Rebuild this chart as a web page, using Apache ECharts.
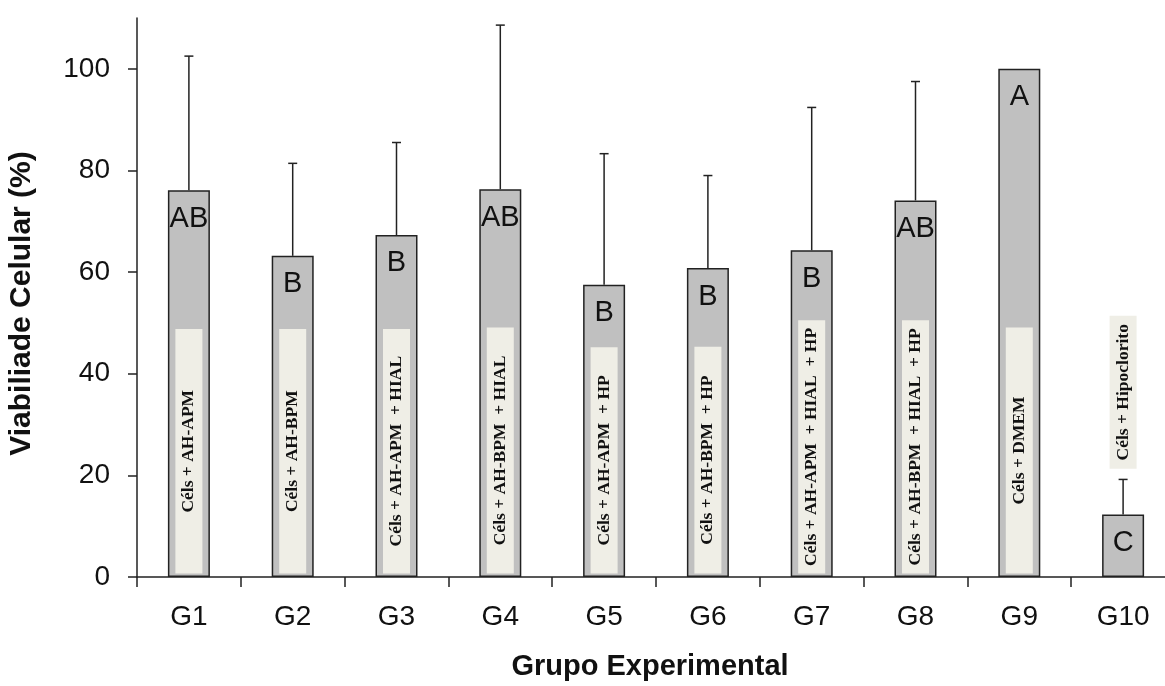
<!DOCTYPE html>
<html>
<head>
<meta charset="utf-8">
<script src="https://cdn.jsdelivr.net/npm/echarts@6/dist/echarts.min.js"></script>
<style>html,body{margin:0;padding:0;background:#fff;overflow:hidden}#c{width:1165px;height:686px}</style>
</head>
<body>
<div id="c"></div>
<script>
const categories = ['G1','G2','G3','G4','G5','G6','G7','G8','G9','G10'];
const means = [76.1, 63.2, 67.3, 76.3, 57.5, 60.8, 64.3, 74.1, 100, 12.3];
const errTops = [102.5, 81.4, 85.5, 108.6, 83.3, 79.0, 92.4, 97.5, null, 19.2];
const letters = ['AB','B','B','AB','B','B','B','AB','A','C'];
const boxLabels = [
  'Céls + AH-APM',
  'Céls + AH-BPM',
  'Céls + AH-APM  + HIAL',
  'Céls + AH-BPM  + HIAL',
  'Céls + AH-APM  + HP',
  'Céls + AH-BPM  + HP',
  'Céls + AH-APM  + HIAL  + HP',
  'Céls + AH-BPM  + HIAL  + HP',
  'Céls + DMEM',
  'Céls + Hipoclorito'
];
const boxBottoms = [0.7, 0.7, 0.7, 0.7, 0.7, 0.7, 0.7, 0.7, 0.7, 21.3];
const boxTops = [48.8, 48.8, 48.8, 49.1, 45.2, 45.3, 50.5, 50.5, 49.1, 51.4];
const yTicks = [0, 20, 40, 60, 80, 100];

const chart = echarts.init(document.getElementById('c'));
const axisColor = '#222';
chart.setOption({
  animation: false,
  backgroundColor: '#fff',
  grid: { left: 137, width: 1038, top: 18, bottom: 109, containLabel: false, outerBoundsMode: 'none' },
  xAxis: {
    type: 'category',
    data: categories,
    name: 'Grupo Experimental',
    nameLocation: 'middle',
    nameGap: 75,
    nameTextStyle: { fontFamily: 'Liberation Sans', fontWeight: 'bold', fontSize: 29, color: '#111', padding: [0, 12, 0, 0] },
    axisLine: { lineStyle: { color: axisColor, width: 1.5 } },
    axisTick: { show: true, length: 10, lineStyle: { color: axisColor, width: 1.5 } },
    axisLabel: { fontFamily: 'Liberation Sans', fontSize: 28, color: '#111', margin: 26 }
  },
  yAxis: {
    type: 'value',
    min: 0, max: 110, interval: 20,
    name: 'Viabiliade Celular (%)',
    nameLocation: 'middle',
    nameGap: 100,
    nameTextStyle: { fontFamily: 'Liberation Sans', fontWeight: 'bold', fontSize: 30, color: '#111', padding: [0, 12, 0, 0] },
    axisLine: { show: true, lineStyle: { color: axisColor, width: 1.5 } },
    axisTick: { show: true, length: 9, customValues: yTicks, lineStyle: { color: axisColor, width: 1.5 } },
    axisLabel: { fontFamily: 'Liberation Sans', fontSize: 28, color: '#111', margin: 27, customValues: yTicks },
    splitLine: { show: false }
  },
  series: [
    {
      type: 'bar',
      data: means,
      barWidth: 42,
      itemStyle: { color: '#c0c0c0', borderColor: '#222', borderWidth: 1.5 },
      label: {
        show: true,
        position: 'insideTop',
        distance: 14,
        formatter: p => letters[p.dataIndex],
        fontFamily: 'Liberation Sans',
        fontSize: 29,
        color: '#111'
      },
      z: 2
    },
    {
      type: 'custom',
      data: categories.map((c, i) => [i, boxBottoms[i], boxTops[i]]),
      z: 3,
      renderItem: function (params, api) {
        const i = api.value(0);
        const b = api.coord([i, api.value(1)]);
        const t = api.coord([i, api.value(2)]);
        const w = 27;
        return {
          type: 'group',
          children: [
            { type: 'rect', shape: { x: b[0] - w / 2, y: t[1], width: w, height: b[1] - t[1] }, style: { fill: '#efeee6' } },
            { type: 'text', x: b[0], y: (b[1] + t[1]) / 2, rotation: Math.PI / 2,
              style: { text: boxLabels[i], x: 0, y: 0, fill: '#111', font: 'bold 17.5px "Liberation Serif"', align: 'center', verticalAlign: 'middle' } }
          ]
        };
      }
    },
    {
      type: 'custom',
      data: categories.map((c, i) => [i, means[i], errTops[i]]).filter(d => d[2] !== null),
      z: 4,
      renderItem: function (params, api) {
        const i = api.value(0);
        const p0 = api.coord([i, api.value(1)]);
        const p1 = api.coord([i, api.value(2)]);
        const st = { stroke: '#222', lineWidth: 1.5 };
        return {
          type: 'group',
          children: [
            { type: 'line', shape: { x1: p0[0], y1: p0[1], x2: p1[0], y2: p1[1] }, style: st },
            { type: 'line', shape: { x1: p1[0] - 4.5, y1: p1[1], x2: p1[0] + 4.5, y2: p1[1] }, style: st }
          ]
        };
      }
    }
  ]
});
</script>
</body>
</html>
